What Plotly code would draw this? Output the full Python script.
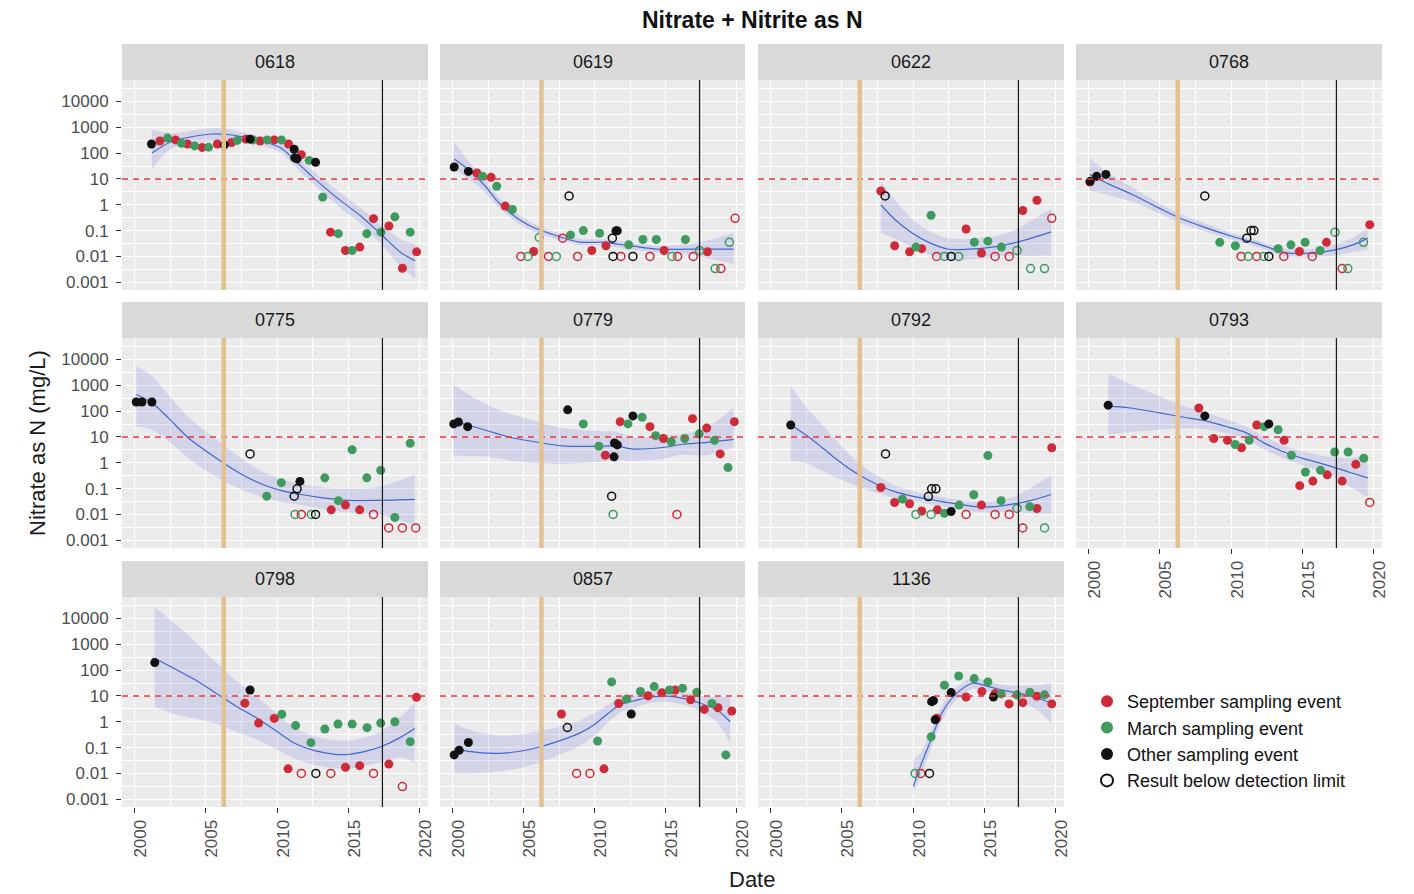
"""Nitrate + Nitrite as N per well, faceted like a ggplot facet_wrap."""

import plotly.graph_objects as go

W, H = 1414, 894
FONT = "Liberation Sans, Arial, sans-serif"

RED = "#CF2A38"
GREEN = "#3E9A5E"
BLACK = "#111111"
KIND_COLOR = {"S": RED, "M": GREEN, "O": BLACK}

# ---- values -----------------------------------------------------------------
# samples: (decimal year, mg/L, kind)  S=September M=March O=other,
# lower-case kind = result below detection limit (open circle)
S0618 = [(2001.17, 224, "O"), (2001.76, 295, "S"), (2002.3, 380, "M"), (2002.86, 324, "S"),
         (2003.28, 240, "M"), (2003.7, 224, "S"), (2004.2, 190, "M"), (2004.73, 166, "S"),
         (2005.18, 170, "M"), (2005.8, 224, "S"), (2006.3, 209, "O"), (2006.8, 257, "S"),
         (2007.2, 309, "M"), (2007.8, 347, "S"), (2008.1, 347, "O"), (2008.3, 324, "M"),
         (2008.8, 295, "S"), (2009.3, 324, "M"), (2009.8, 324, "S"), (2010.3, 324, "M"),
         (2010.8, 224, "S"), (2011.2, 141, "O"), (2011.24, 65, "O"), (2011.4, 60, "O"),
         (2011.7, 87, "S"), (2012.25, 52, "M"), (2012.7, 44, "O"), (2013.2, 1.97, "M"),
         (2013.75, 0.087, "S"), (2014.3, 0.076, "M"), (2014.8, 0.017, "S"), (2015.27, 0.017, "M"),
         (2015.8, 0.023, "S"), (2016.3, 0.076, "M"), (2016.77, 0.29, "S"), (2017.3, 0.087, "M"),
         (2017.85, 0.15, "S"), (2018.27, 0.34, "M"), (2018.8, 0.0035, "S"), (2019.35, 0.087, "M"),
         (2019.8, 0.015, "S")]
S0619 = [(2000.1, 29, "O"), (2001.1, 19.5, "O"), (2001.7, 17, "S"), (2002.1, 12.6, "M"),
         (2002.7, 11.5, "S"), (2003.1, 5.2, "M"), (2003.7, 0.89, "S"), (2004.2, 0.66, "M"),
         (2004.8, 0.01, "s"), (2005.3, 0.01, "m"), (2005.7, 0.0155, "S"), (2006.1, 0.054, "m"),
         (2006.75, 0.01, "s"), (2007.3, 0.01, "m"), (2007.75, 0.051, "s"), (2008.2, 2.2, "o"),
         (2008.3, 0.068, "M"), (2008.8, 0.01, "s"), (2009.2, 0.10, "M"), (2009.8, 0.017, "S"),
         (2010.35, 0.079, "M"), (2010.8, 0.026, "S"), (2011.25, 0.051, "o"), (2011.3, 0.01, "o"),
         (2011.5, 0.098, "O"), (2011.6, 0.098, "O"), (2011.85, 0.01, "s"), (2012.4, 0.028, "M"),
         (2012.7, 0.01, "o"), (2013.4, 0.045, "M"), (2013.9, 0.01, "s"), (2014.35, 0.045, "M"),
         (2014.9, 0.017, "S"), (2015.45, 0.01, "m"), (2015.85, 0.01, "s"), (2016.4, 0.045, "M"),
         (2016.95, 0.01, "s"), (2017.4, 0.017, "m"), (2017.95, 0.015, "S"), (2018.5, 0.0034, "m"),
         (2018.9, 0.0034, "s"), (2019.5, 0.035, "m"), (2019.9, 0.30, "s")]
S0622 = [(2007.73, 3.4, "S"), (2008.03, 2.2, "o"), (2008.7, 0.026, "S"), (2009.75, 0.015, "S"),
         (2010.2, 0.023, "M"), (2010.6, 0.02, "S"), (2011.26, 0.39, "M"), (2011.65, 0.01, "s"),
         (2012.2, 0.01, "m"), (2012.67, 0.01, "o"), (2013.2, 0.01, "m"), (2013.72, 0.115, "S"),
         (2014.3, 0.035, "M"), (2014.8, 0.0135, "S"), (2015.25, 0.039, "M"), (2015.76, 0.01, "s"),
         (2016.2, 0.023, "M"), (2016.75, 0.01, "s"), (2017.3, 0.017, "m"), (2017.7, 0.60, "S"),
         (2018.25, 0.0034, "m"), (2018.7, 1.5, "S"), (2019.23, 0.0034, "m"), (2019.74, 0.30, "s")]
S0768 = [(2000.07, 7.6, "S"), (2000.1, 8.1, "O"), (2000.55, 12.6, "O"), (2001.2, 15, "O"),
         (2008.15, 2.2, "o"), (2009.2, 0.035, "M"), (2010.3, 0.026, "M"), (2010.7, 0.01, "s"),
         (2011.1, 0.051, "o"), (2011.2, 0.01, "m"), (2011.4, 0.10, "o"), (2011.6, 0.10, "o"),
         (2011.8, 0.01, "s"), (2012.3, 0.01, "m"), (2012.65, 0.01, "o"), (2013.3, 0.020, "M"),
         (2013.7, 0.01, "s"), (2014.2, 0.028, "M"), (2014.8, 0.0155, "S"), (2015.2, 0.035, "M"),
         (2015.7, 0.01, "s"), (2016.25, 0.017, "M"), (2016.7, 0.035, "S"), (2017.3, 0.087, "m"),
         (2017.8, 0.0034, "s"), (2018.2, 0.0034, "m"), (2019.3, 0.035, "m"), (2019.74, 0.17, "S")]
S0775 = [(2000.1, 224, "O"), (2000.5, 224, "O"), (2001.2, 224, "O"), (2008.1, 2.2, "o"),
         (2009.27, 0.051, "M"), (2010.3, 0.17, "M"), (2011.2, 0.051, "o"), (2011.26, 0.01, "m"),
         (2011.4, 0.098, "o"), (2011.6, 0.19, "O"), (2011.7, 0.01, "s"), (2012.4, 0.01, "m"),
         (2012.7, 0.01, "o"), (2013.35, 0.26, "M"), (2013.8, 0.015, "S"), (2014.3, 0.034, "M"),
         (2014.8, 0.023, "S"), (2015.27, 3.2, "M"), (2015.8, 0.015, "S"), (2016.3, 0.26, "M"),
         (2016.77, 0.01, "s"), (2017.28, 0.51, "M"), (2017.84, 0.003, "s"), (2018.27, 0.0076, "M"),
         (2018.8, 0.003, "s"), (2019.35, 5.7, "M"), (2019.74, 0.003, "s")]
S0779 = [(2000.07, 32, "O"), (2000.4, 38, "O"), (2001.05, 25, "O"), (2008.1, 112, "O"),
         (2009.2, 32, "M"), (2010.3, 4.4, "M"), (2010.75, 1.95, "S"), (2011.2, 0.051, "o"),
         (2011.3, 0.01, "m"), (2011.37, 1.7, "O"), (2011.4, 5.8, "O"), (2011.6, 4.9, "O"),
         (2011.8, 39, "S"), (2012.35, 32, "M"), (2012.7, 65, "O"), (2013.35, 58, "M"),
         (2013.9, 25, "S"), (2014.3, 11.2, "M"), (2014.85, 8.7, "S"), (2015.4, 6.5, "M"),
         (2015.8, 0.01, "s"), (2016.35, 8.7, "M"), (2016.9, 51, "S"), (2017.37, 13.2, "M"),
         (2017.9, 22, "S"), (2018.45, 7.4, "M"), (2018.85, 2.2, "S"), (2019.4, 0.65, "M"),
         (2019.85, 39, "S")]
S0792 = [(2001.4, 29, "O"), (2007.73, 0.11, "S"), (2008.06, 2.2, "o"), (2008.7, 0.029, "S"),
         (2009.25, 0.039, "M"), (2009.75, 0.026, "S"), (2010.2, 0.01, "m"), (2010.6, 0.0135, "S"),
         (2011.07, 0.049, "o"), (2011.26, 0.01, "m"), (2011.3, 0.098, "o"), (2011.6, 0.098, "o"),
         (2011.7, 0.015, "S"), (2012.2, 0.011, "M"), (2012.67, 0.013, "O"), (2013.23, 0.023, "M"),
         (2013.72, 0.01, "s"), (2014.26, 0.058, "M"), (2014.8, 0.023, "S"), (2015.25, 1.9, "M"),
         (2015.76, 0.01, "s"), (2016.18, 0.034, "M"), (2016.75, 0.01, "s"), (2017.3, 0.017, "m"),
         (2017.7, 0.003, "s"), (2018.2, 0.02, "M"), (2018.7, 0.017, "S"), (2019.23, 0.003, "m"),
         (2019.74, 3.8, "S")]
S0793 = [(2001.36, 170, "O"), (2007.73, 132, "S"), (2008.15, 65, "O"), (2008.78, 8.7, "S"),
         (2009.74, 7.4, "S"), (2010.28, 5.1, "M"), (2010.73, 3.8, "S"), (2011.27, 7.4, "M"),
         (2011.8, 29, "S"), (2012.32, 25, "M"), (2012.65, 32, "O"), (2013.3, 19, "M"),
         (2013.72, 7.4, "S"), (2014.24, 1.95, "M"), (2014.82, 0.13, "S"), (2015.22, 0.44, "M"),
         (2015.74, 0.195, "S"), (2016.28, 0.51, "M"), (2016.75, 0.34, "S"), (2017.28, 2.6, "M"),
         (2017.8, 0.195, "S"), (2018.22, 2.6, "M"), (2018.76, 0.87, "S"), (2019.32, 1.5, "M"),
         (2019.74, 0.029, "s")]
S0798 = [(2001.4, 195, "O"), (2007.73, 5.2, "S"), (2008.1, 17, "O"), (2008.7, 0.89, "S"),
         (2009.8, 1.35, "S"), (2010.33, 1.95, "M"), (2010.77, 0.015, "S"), (2011.3, 0.71, "M"),
         (2011.7, 0.01, "s"), (2012.37, 0.155, "M"), (2012.72, 0.01, "o"), (2013.35, 0.52, "M"),
         (2013.77, 0.01, "s"), (2014.28, 0.81, "M"), (2014.8, 0.0174, "S"), (2015.27, 0.81, "M"),
         (2015.8, 0.02, "S"), (2016.32, 0.59, "M"), (2016.77, 0.01, "s"), (2017.28, 0.89, "M"),
         (2017.85, 0.023, "S"), (2018.27, 1.0, "M"), (2018.8, 0.0031, "s"), (2019.35, 0.17, "M"),
         (2019.79, 8.9, "S")]
S0857 = [(2000.1, 0.052, "O"), (2000.45, 0.079, "O"), (2001.1, 0.158, "O"), (2007.66, 2.0, "S"),
         (2008.08, 0.6, "o"), (2008.73, 0.01, "s"), (2009.67, 0.01, "s"), (2010.21, 0.18, "M"),
         (2010.66, 0.015, "S"), (2011.2, 35, "M"), (2011.7, 5.1, "S"), (2012.25, 7.6, "M"),
         (2012.58, 2.0, "O"), (2013.23, 15, "M"), (2013.77, 10.2, "S"), (2014.2, 23, "M"),
         (2014.73, 13.2, "S"), (2015.27, 17, "M"), (2015.67, 17, "S"), (2016.2, 20, "M"),
         (2016.77, 7.1, "S"), (2017.2, 13.8, "M"), (2017.73, 3.0, "S"), (2018.27, 5.1, "M"),
         (2018.7, 3.5, "S"), (2019.25, 0.052, "M"), (2019.67, 2.6, "S")]
S1136 = [(2010.14, 0.01, "m"), (2010.54, 0.01, "s"), (2011.15, 0.01, "o"), (2011.26, 0.26, "M"),
         (2011.3, 6.0, "O"), (2011.43, 6.6, "O"), (2011.55, 1.2, "O"), (2011.66, 1.38, "S"),
         (2012.2, 26, "M"), (2012.67, 13.5, "O"), (2013.2, 59, "M"), (2013.72, 9.1, "S"),
         (2014.29, 47, "M"), (2014.83, 15, "S"), (2015.25, 35, "M"), (2015.64, 9.1, "O"),
         (2015.76, 12.3, "S"), (2016.18, 12, "M"), (2016.74, 4.9, "S"), (2017.3, 11, "M"),
         (2017.7, 5.5, "S"), (2018.2, 13.8, "M"), (2018.69, 9.8, "S"), (2019.23, 11, "M"),
         (2019.74, 4.9, "S")]

# smoother: (decimal year, fit, lower band, upper band) in mg/L
F0618 = [(2001.2, 100, 23, 800), (2002.6, 282, 155, 590), (2005.2, 537, 282, 910),
         (2006.3, 537, 320, 890), (2007.5, 437, 290, 650), (2008.9, 295, 200, 435),
         (2010.3, 155, 100, 240), (2011.2, 55, 33, 92), (2012.2, 17, 9, 30), (2013.1, 6.0, 3.3, 11),
         (2014.5, 1.38, 0.7, 2.7), (2015.9, 0.36, 0.18, 0.72), (2017.3, 0.072, 0.03, 0.16),
         (2018.7, 0.014, 0.004, 0.045), (2019.7, 0.0068, 0.0014, 0.03)]
F0619 = [(2000.1, 59, 23, 280), (2001.1, 23, 10, 51), (2002.3, 5.2, 2.9, 9.3), (2003.25, 1.2, 0.76, 1.9),
         (2004.65, 0.275, 0.19, 0.41), (2005.85, 0.12, 0.085, 0.17), (2007.0, 0.072, 0.053, 0.098),
         (2008.9, 0.036, 0.028, 0.048), (2010.6, 0.035, 0.026, 0.046), (2012.5, 0.026, 0.019, 0.034),
         (2014.4, 0.019, 0.014, 0.026), (2016.5, 0.019, 0.0126, 0.029), (2018.0, 0.019, 0.0085, 0.042),
         (2019.8, 0.019, 0.0051, 0.083)]
F0622 = [(2007.73, 1.0, 0.083, 8.1), (2008.7, 0.275, 0.049, 1.55), (2009.9, 0.083, 0.023, 0.29),
         (2011.1, 0.035, 0.012, 0.098), (2012.5, 0.019, 0.0072, 0.05), (2013.9, 0.019, 0.0076, 0.048),
         (2015.3, 0.022, 0.0089, 0.056), (2016.7, 0.03, 0.0105, 0.083), (2018.1, 0.047, 0.0105, 0.21),
         (2019.7, 0.089, 0.0112, 0.71)]
F0768 = [(2000.07, 14.8, 3.4, 65), (2001.2, 7.1, 2.5, 20), (2003.05, 2.5, 1.3, 4.8), (2004.9, 0.76, 0.48, 1.2),
         (2006.3, 0.32, 0.21, 0.47), (2008.2, 0.13, 0.093, 0.19), (2010.1, 0.059, 0.044, 0.079),
         (2011.95, 0.03, 0.022, 0.04), (2013.8, 0.014, 0.01, 0.02), (2015.7, 0.0135, 0.0091, 0.02),
         (2017.3, 0.018, 0.011, 0.029), (2018.7, 0.03, 0.015, 0.059), (2019.6, 0.051, 0.018, 0.145)]
F0775 = [(2000.1, 437, 26, 5400), (2001.2, 209, 19, 2350), (2002.35, 55, 6.9, 437), (2003.75, 9.3, 1.5, 59),
         (2005.15, 2.5, 0.44, 14), (2006.3, 0.93, 0.19, 4.7), (2007.5, 0.36, 0.091, 1.45),
         (2008.9, 0.15, 0.048, 0.48), (2010.3, 0.083, 0.03, 0.23), (2011.7, 0.059, 0.023, 0.15),
         (2013.35, 0.043, 0.016, 0.11), (2015.0, 0.035, 0.012, 0.098), (2017.3, 0.035, 0.0098, 0.12),
         (2019.67, 0.038, 0.0038, 0.36)]
F0779 = [(2000.07, 39, 1.9, 1070), (2001.05, 29, 1.8, 460), (2002.5, 17, 1.7, 170), (2004.15, 9.3, 1.2, 74),
         (2005.8, 6.5, 0.98, 43), (2007.7, 4.5, 0.89, 22), (2010.05, 4.3, 1.07, 17), (2011.5, 4.5, 1.26, 16),
         (2012.7, 3.4, 1.2, 10), (2014.8, 3.9, 1.4, 11), (2016.2, 5.2, 2.1, 13), (2017.65, 6.0, 1.9, 19),
         (2019.8, 8.1, 3.9, 135)]
F0792 = [(2001.4, 29, 1.2, 910), (2002.4, 12.6, 1.0, 158), (2003.6, 3.9, 0.49, 31), (2004.75, 1.2, 0.24, 6.0),
         (2005.9, 0.43, 0.135, 1.35), (2007.3, 0.16, 0.072, 0.36), (2008.7, 0.076, 0.043, 0.135),
         (2010.1, 0.049, 0.031, 0.078), (2011.55, 0.035, 0.023, 0.052), (2012.95, 0.026, 0.017, 0.039),
         (2014.35, 0.02, 0.0128, 0.032), (2015.76, 0.02, 0.012, 0.034), (2017.2, 0.026, 0.013, 0.051),
         (2018.3, 0.035, 0.011, 0.11), (2019.7, 0.059, 0.0107, 0.32)]
F0793 = [(2001.36, 155, 12.6, 2950), (2002.8, 135, 15, 1200), (2004.9, 87, 19, 390), (2006.55, 59, 21, 166),
         (2008.2, 42, 20, 89), (2009.6, 26, 14, 50), (2011.0, 15, 8.3, 26), (2012.4, 5.5, 3.1, 9.8),
         (2013.8, 2.5, 1.4, 4.5), (2015.2, 1.38, 0.74, 2.6), (2016.9, 0.76, 0.34, 1.7),
         (2018.3, 0.43, 0.12, 1.5), (2019.6, 0.26, 0.047, 2.1)]
F0798 = [(2001.4, 290, 3.8, 28000), (2002.8, 112, 2.0, 6300), (2004.2, 43, 1.35, 1350), (2005.6, 14, 0.89, 224),
         (2007.0, 4.4, 0.44, 44), (2008.43, 1.55, 0.22, 11), (2009.84, 0.48, 0.095, 2.4),
         (2011.24, 0.148, 0.037, 0.59), (2012.65, 0.076, 0.021, 0.27), (2014.05, 0.055, 0.0155, 0.195),
         (2015.0, 0.054, 0.015, 0.19), (2016.4, 0.076, 0.021, 0.27), (2017.33, 0.11, 0.0275, 0.44),
         (2018.73, 0.26, 0.042, 1.65), (2019.67, 0.55, 0.025, 5.5)]
F0857 = [(2000.12, 0.093, 0.0102, 0.87), (2001.1, 0.071, 0.01, 0.5), (2003.2, 0.06, 0.012, 0.3),
         (2004.85, 0.074, 0.0166, 0.33), (2006.25, 0.11, 0.0275, 0.44), (2007.66, 0.195, 0.055, 0.69),
         (2008.83, 0.34, 0.107, 1.07), (2010.0, 0.79, 0.28, 2.2), (2010.94, 2.1, 0.93, 4.7),
         (2011.87, 4.8, 2.4, 9.5), (2012.81, 6.5, 3.6, 11.5), (2013.98, 9.1, 5.5, 15), (2015.15, 9.8, 5.9, 16.2),
         (2016.32, 7.9, 4.5, 14), (2017.49, 5.1, 2.6, 10.2), (2018.66, 2.8, 0.89, 8.9), (2019.55, 1.0, 0.148, 9.1)]
F1136 = [(2010.02, 0.0032, 0.0017, 0.034), (2010.6, 0.025, 0.0089, 0.071), (2011.3, 0.23, 0.105, 0.52),
         (2012.0, 2.1, 1.07, 4.3), (2012.95, 11, 6.2, 19.5), (2014.17, 31, 18.6, 51), (2015.3, 23, 14.5, 36),
         (2016.46, 16, 10.2, 26), (2017.63, 12, 6.0, 24), (2018.8, 8.1, 2.6, 26), (2019.7, 5.2, 0.87, 32)]

SITES = [("0618", S0618, F0618), ("0619", S0619, F0619), ("0622", S0622, F0622),
         ("0768", S0768, F0768), ("0775", S0775, F0775), ("0779", S0779, F0779),
         ("0792", S0792, F0792), ("0793", S0793, F0793), ("0798", S0798, F0798),
         ("0857", S0857, F0857), ("1136", S1136, F1136)]

LIMIT = 10            # red dashed reference level (mg/L)
EVENT_YEAR = 2006.25  # tan vertical marker
RECENT_YEAR = 2017.4  # black vertical marker

X_TICKS = [2000, 2005, 2010, 2015, 2020]
Y_TICKS = [0.001, 0.01, 0.1, 1, 10, 100, 1000, 10000]
Y_TICKTEXT = ["0.001", "0.01", "0.1", "1", "10", "100", "1000", "10000"]
LEGEND = [("September sampling event", "S"), ("March sampling event", "M"),
          ("Other sampling event", "O"), ("Result below detection limit", "o")]

# ---- layout geometry (pixels) -------------------------------------------------
COL_X = [(122, 428), (440, 745), (758, 1064), (1076, 1382)]
ROW_Y = [(80, 290), (338, 548), (597, 807)]
STRIP_H = 36
X_RANGE = [1999.1, 2020.6]
Y_RANGE = [-3.3, 4.83]
BOTTOM_PANELS = {7, 8, 9, 10}
LEFT_PANELS = {0, 4, 8}
TICK_FONT = dict(size=17, color="#4D4D4D")

fig = go.Figure()
shapes, annotations = [], []

for i, (site, samples, fit) in enumerate(SITES):
    row, col = divmod(i, 4)
    n = "" if i == 0 else str(i + 1)
    xr, yr = f"x{n}", f"y{n}"
    (px0, px1), (py0, py1) = COL_X[col], ROW_Y[row]

    fig.update_layout({
        f"xaxis{n}": dict(
            domain=[px0 / W, px1 / W], anchor=yr, range=X_RANGE, automargin=False,
            tickvals=X_TICKS, ticktext=[str(t) for t in X_TICKS], tickangle=-90,
            showticklabels=i in BOTTOM_PANELS, ticks="outside" if i in BOTTOM_PANELS else "",
            ticklen=5, tickwidth=1.1, tickcolor="#333333", tickfont=TICK_FONT, ticklabelshift=6,
            showgrid=True, gridcolor="white", gridwidth=1.4, zeroline=False, showline=False,
            minor=dict(tickvals=[2002.5, 2007.5, 2012.5, 2017.5], showgrid=True,
                       gridcolor="white", gridwidth=0.7, ticks=""),
        ),
        f"yaxis{n}": dict(
            domain=[1 - py1 / H, 1 - py0 / H], anchor=xr, type="log", range=Y_RANGE, automargin=False,
            tickvals=Y_TICKS, ticktext=Y_TICKTEXT,
            showticklabels=i in LEFT_PANELS, ticks="outside" if i in LEFT_PANELS else "",
            ticklen=5, tickwidth=1.1, tickcolor="#333333", tickfont=TICK_FONT, ticklabelstandoff=4,
            showgrid=True, gridcolor="white", gridwidth=1.4, zeroline=False, showline=False,
            minor=dict(tickvals=[10 ** (k + 0.5) for k in range(-3, 5)], showgrid=True,
                       gridcolor="white", gridwidth=0.7, ticks=""),
        ),
    })

    # strip
    shapes.append(dict(type="rect", xref="paper", yref="paper", x0=px0 / W, x1=px1 / W,
                       y0=1 - py0 / H, y1=1 - (py0 - STRIP_H) / H, fillcolor="#D9D9D9", line_width=0))
    annotations.append(dict(text=site, xref="paper", yref="paper", x=(px0 + px1) / 2 / W,
                            y=1 - (py0 - STRIP_H / 2) / H, xanchor="center", yanchor="middle",
                            showarrow=False, font=dict(size=18, color="#1A1A1A")))

    # reference lines
    shapes.append(dict(type="line", xref=f"{xr} domain", yref=yr, x0=0, x1=1, y0=LIMIT, y1=LIMIT,
                       line=dict(color="#E8343A", width=1.4, dash="6px,5px")))
    shapes.append(dict(type="line", xref=xr, yref=f"{yr} domain", x0=EVENT_YEAR, x1=EVENT_YEAR,
                       y0=0, y1=1, line=dict(color="#E3C08F", width=4.5)))
    shapes.append(dict(type="line", xref=xr, yref=f"{yr} domain", x0=RECENT_YEAR, x1=RECENT_YEAR,
                       y0=0, y1=1, line=dict(color="#1A1A1A", width=1.3)))

    # smoother band + line
    fx = [f[0] for f in fit]
    fig.add_trace(go.Scatter(x=fx, y=[f[2] for f in fit], xaxis=xr, yaxis=yr, mode="lines",
                             line=dict(width=0, shape="spline", smoothing=0.8),
                             showlegend=False, hoverinfo="skip"))
    fig.add_trace(go.Scatter(x=fx, y=[f[3] for f in fit], xaxis=xr, yaxis=yr, mode="lines",
                             line=dict(width=0, shape="spline", smoothing=0.8), fill="tonexty",
                             fillcolor="rgba(70,70,220,0.14)", showlegend=False, hoverinfo="skip"))
    fig.add_trace(go.Scatter(x=fx, y=[f[1] for f in fit], xaxis=xr, yaxis=yr, mode="lines",
                             line=dict(color="#3F67CC", width=1.2, shape="spline", smoothing=0.8),
                             showlegend=False, hoverinfo="skip"))

    # samples
    for kind in "SMOsmo":
        sub = [s for s in samples if s[2] == kind]
        if not sub:
            continue
        color = KIND_COLOR[kind.upper()]
        if kind.isupper():
            marker = dict(symbol="circle", size=9, color=color, line=dict(width=0))
        else:
            marker = dict(symbol="circle-open", size=8, color=color, line=dict(width=1.5))
        fig.add_trace(go.Scatter(x=[s[0] for s in sub], y=[s[1] for s in sub], xaxis=xr, yaxis=yr,
                                 mode="markers", marker=marker, showlegend=False))

# legend entries
for label, kind in LEGEND:
    if kind.isupper():
        marker = dict(symbol="circle", size=7, color=KIND_COLOR[kind])
    else:
        marker = dict(symbol="circle-open", size=7, color=BLACK, line=dict(width=1.2))
    fig.add_trace(go.Scatter(x=[None], y=[None], mode="markers", marker=marker, name=label))

annotations += [
    dict(text="Nitrate + Nitrite as N", xref="paper", yref="paper", x=752 / W, y=1 - 20 / H,
         xanchor="center", yanchor="middle", showarrow=False,
         font=dict(size=23, color="#111111", weight="bold")),
    dict(text="Date", xref="paper", yref="paper", x=752 / W, y=1 - 879 / H,
         xanchor="center", yanchor="middle", showarrow=False, font=dict(size=22, color="#1A1A1A")),
    dict(text="Nitrate as N (mg/L)", xref="paper", yref="paper", x=38 / W, y=1 - 443 / H,
         xanchor="center", yanchor="middle", textangle=-90, showarrow=False,
         font=dict(size=22, color="#1A1A1A")),
]

fig.update_layout(
    width=W, height=H, autosize=False,
    margin=dict(l=0, r=0, t=0, b=0, pad=0, autoexpand=False),
    paper_bgcolor="white", plot_bgcolor="#EBEBEB",
    font=dict(family=FONT, color="#1A1A1A"),
    shapes=shapes, annotations=annotations,
    showlegend=True,
    legend=dict(x=1087 / W, y=1 - 683 / H, xanchor="left", yanchor="top", traceorder="normal",
                bgcolor="rgba(0,0,0,0)", font=dict(size=18, color="#111111"),
                itemsizing="constant", tracegroupgap=0),
)

fig.write_html("out.html", config={"displayModeBar": False},
               post_script="document.body.style.margin='0';")
